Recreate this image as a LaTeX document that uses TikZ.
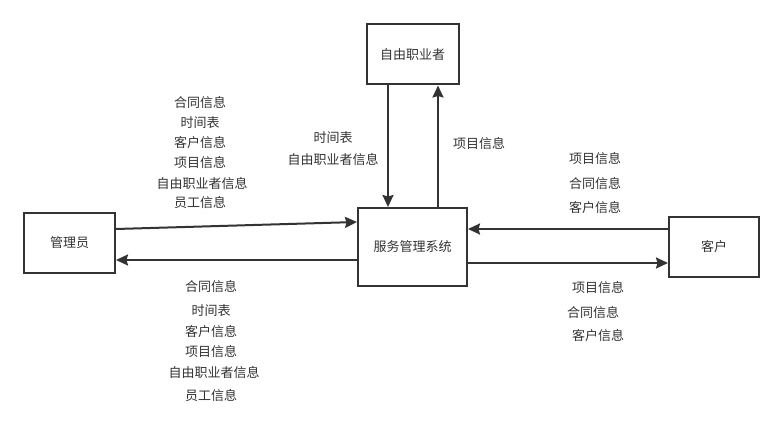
\documentclass[tikz,border=0pt]{standalone}
\usepackage{fontspec}
\setmainfont{Noto Sans CJK SC}
\usetikzlibrary{arrows.meta}
\definecolor{ink}{HTML}{333333}
\begin{document}
\begin{tikzpicture}[x=1pt,y=-1pt,
  box/.style={draw=ink,line width=2pt,inner sep=0pt,text=ink,font=\fontsize{13}{15}\selectfont},
  lbl/.style={inner sep=0pt,text=ink,font=\fontsize{13}{15}\selectfont},
  flow/.style={draw=ink,line width=2pt,-{Stealth[length=12pt,width=11pt,inset=1.5pt]}}]
\useasboundingbox[fill=white] (0,0) rectangle (784,441);
\node[box,minimum width=91pt,minimum height=60pt] (gly) at (69.5,243) {管理员};
\node[box,minimum width=92pt,minimum height=60pt] (free) at (412.5,54.5) {自由职业者};
\node[box,minimum width=109pt,minimum height=78pt] (svc) at (412.5,247) {服务管理系统};
\node[box,minimum width=90pt,minimum height=60pt] (kh) at (714,247) {客户};
% connectors
\draw[flow] ([yshift=14pt]gly.east) -- ([yshift=25pt]svc.west);
\draw[flow] ([yshift=-13pt]svc.west) -- ([yshift=-17pt]gly.east);
\draw[flow] ([xshift=-24.5pt]free.south) -- ([xshift=-24.5pt]svc.north);
\draw[flow] ([xshift=25.5pt]svc.north) -- ([xshift=25.5pt]free.south);
\draw[flow] ([yshift=18pt]kh.west) -- ([yshift=18pt]svc.east);
\draw[flow] ([yshift=-16pt]svc.east) -- ([yshift=-16pt]kh.west);
% top-left labels
\node[lbl] (a1) at (200,103) {合同信息};
\node[lbl] (a2) at (200,123) {时间表};
\node[lbl] (a3) at (200,143) {客户信息};
\node[lbl] (a4) at (200,163) {项目信息};
\node[lbl] (a5) at (202,184) {自由职业者信息};
\node[lbl] (a6) at (200,203) {员工信息};
% middle labels
\node[lbl] (b1) at (333,138) {时间表};
\node[lbl] (b2) at (333,160) {自由职业者信息};
\node[lbl] (c1) at (479,144) {项目信息};
% right top
\node[lbl] (d1) at (595,159) {项目信息};
\node[lbl] (d2) at (595,184) {合同信息};
\node[lbl] (d3) at (595,208) {客户信息};
% right bottom
\node[lbl] (e1) at (598,288) {项目信息};
\node[lbl] (e2) at (593,313) {合同信息};
\node[lbl] (e3) at (598,336) {客户信息};
% bottom left
\node[lbl] (f1) at (211,287) {合同信息};
\node[lbl] (f2) at (211,311) {时间表};
\node[lbl] (f3) at (211,332) {客户信息};
\node[lbl] (f4) at (211,352) {项目信息};
\node[lbl] (f5) at (214,373) {自由职业者信息};
\node[lbl] (f6) at (211,396) {员工信息};
\end{tikzpicture}
\end{document}
